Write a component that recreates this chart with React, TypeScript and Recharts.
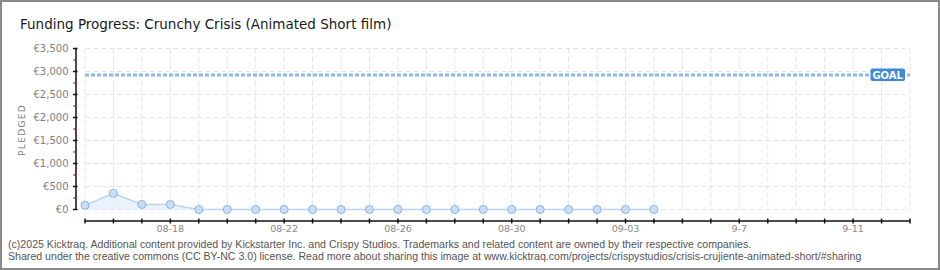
import React from 'react';
import { AreaChart, Area, XAxis, YAxis, CartesianGrid, ReferenceLine } from 'recharts';

const dates = [
  '08-15', '08-16', '08-17', '08-18', '08-19', '08-20', '08-21', '08-22', '08-23', '08-24',
  '08-25', '08-26', '08-27', '08-28', '08-29', '08-30', '08-31', '09-01', '09-02', '09-03',
  '09-04', '09-05', '09-06', '09-07', '09-08', '09-09', '09-10', '09-11', '09-12', '09-13',
];
const pledged = [90, 350, 110, 110, 0, 0, 0, 0, 0, 0, 0, 0, 0, 0, 0, 0, 0, 0, 0, 0, 0];
const yTicks = [0, 250, 500, 750, 1000, 1250, 1500, 1750, 2000, 2250, 2500, 2750, 3000, 3250, 3500];
const labelDates = ['08-18', '08-22', '08-26', '08-30', '09-03', '09-07', '09-11'];
const labelTexts = ['08-18', '08-22', '08-26', '08-30', '09-03', '9-7', '9-11'];
const goal = 2925;

const title = 'Funding Progress: Crunchy Crisis (Animated Short film)';
const footer1 =
  '(c)2025 Kicktraq. Additional content provided by Kickstarter Inc. and Crispy Studios. Trademarks and related content are owned by their respective companies.';
const footer2 =
  'Shared under the creative commons (CC BY-NC 3.0) license. Read more about sharing this image at www.kicktraq.com/projects/crispystudios/crisis-crujiente-animated-short/#sharing';

const data = dates.map((d, i) => ({ date: d, pledged: i < pledged.length ? pledged[i] : null }));

const fmtEuro = (v: number) => '€' + v.toLocaleString('en-US');

const YTick = (props: any) => {
  const { x, y, payload } = props;
  const v = payload.value as number;
  const major = v % 500 === 0;
  return (
    <g>
      {major ? (
        <line x1={x - 12} x2={x - 7.5} y1={y} y2={y} stroke="#111" strokeWidth={1.5} />
      ) : (
        <line x1={x - 11.7} x2={x - 9} y1={y} y2={y} stroke="#e00000" strokeWidth={1.2} />
      )}
      {major && (
        <text
          x={x - 16.5}
          y={y + 3.6}
          textAnchor="end"
          fontSize={10}
          fontFamily="DejaVu Sans"
          fill="#808080"
        >
          {fmtEuro(v)}
        </text>
      )}
    </g>
  );
};

const XTick = (props: any) => {
  const { x, y, payload } = props;
  const idx = labelDates.indexOf(payload.value);
  return (
    <g>
      <line x1={x} x2={x} y1={y + 9} y2={y + 14} stroke="#111" strokeWidth={1.5} />
      {idx >= 0 && (
        <text
          x={x}
          y={y + 22.3}
          textAnchor="middle"
          fontSize={9.5}
          fontFamily="DejaVu Sans"
          fill="#888"
        >
          {labelTexts[idx]}
        </text>
      )}
    </g>
  );
};

const HLine = (p: any) => {
  const { index, key, ...rest } = p;
  if (index !== undefined && index % 2 !== 0) return <g key={key} />;
  return <line key={key} {...rest} />;
};

const GoalLabel = (p: any) => {
  const vb = p.viewBox || {};
  const right = (vb.x || 0) + (vb.width || 0);
  const cy = vb.y || 0;
  return (
    <g>
      <rect x={right - 39.5} y={cy - 6.5} width={34.5} height={12.5} rx={2} fill="#3f88d9" />
      <text
        x={right - 22.3}
        y={cy + 3.7}
        textAnchor="middle"
        fontSize={10}
        fontWeight="bold"
        fontFamily="DejaVu Sans"
        fill="#fff"
      >
        GOAL
      </text>
    </g>
  );
};

const PledgedLabel = (p: any) => {
  const vb = p.viewBox || { x: 0, y: 0, width: 0, height: 0 };
  const cx = vb.x + 22;
  const cy = vb.y + vb.height / 2 + 1;
  return (
    <text
      x={cx}
      y={cy}
      transform={`rotate(-90, ${cx}, ${cy})`}
      textAnchor="middle"
      dominantBaseline="central"
      fontSize={9}
      letterSpacing={1.3}
      fontFamily="DejaVu Sans"
      fill="#7a7a7a"
    >
      PLEDGED
    </text>
  );
};

export default function App() {
  return (
    <div style={{ position: 'absolute', left: 0, top: 0, width: 940, height: 270, background: '#fff' }}>
      <div
        style={{
          position: 'absolute',
          left: 20,
          top: 16,
          fontFamily: '"DejaVu Sans", sans-serif',
          fontSize: 13.5,
          lineHeight: '16px',
          color: '#1a1a1a',
          whiteSpace: 'nowrap',
        }}
      >
        {title}
      </div>
      <div style={{ position: 'absolute', left: 0, top: 0 }}>
        <AreaChart width={940} height={270} data={data} margin={{ top: 48.5, right: 30, bottom: 0, left: 0 }}>
          <CartesianGrid
            stroke="#e3e3e3"
            strokeDasharray="5 3"
            horizontal={HLine}
            vertical={true}
          />
          <XAxis
            dataKey="date"
            interval={0}
            tick={<XTick />}
            tickLine={false}
            tickSize={0}
            tickMargin={0}
            height={60.5}
            axisLine={{ stroke: '#111', strokeWidth: 1.5, transform: 'translate(0, 11.5)' } as any}
          />
          <YAxis
            domain={[0, 3500]}
            ticks={yTicks}
            interval={0}
            tick={<YTick />}
            tickLine={false}
            tickSize={0}
            tickMargin={0}
            width={85}
            axisLine={{ stroke: '#111', strokeWidth: 1.5, transform: 'translate(-9, 0)' } as any}
            label={{ content: PledgedLabel } as any}
          />
          <ReferenceLine
            y={goal}
            stroke="#8bb9ec"
            strokeWidth={3}
            strokeDasharray="4 2"
            label={{ content: GoalLabel } as any}
          />
          <Area
            type="linear"
            dataKey="pledged"
            stroke="#b7d4f3"
            strokeWidth={1.5}
            fill="#e6f0fc"
            fillOpacity={0.85}
            dot={{ r: 4, fill: '#c4dcf8', stroke: '#8db0d8', strokeWidth: 1 }}
            activeDot={false}
            isAnimationActive={false}
          />
        </AreaChart>
      </div>
      <div
        style={{
          position: 'absolute',
          left: 8,
          top: 237.5,
          fontFamily: '"Liberation Sans", sans-serif',
          fontSize: 10.6,
          lineHeight: '12.5px',
          color: '#555',
          whiteSpace: 'nowrap',
        }}
      >
        <div>{footer1}</div>
        <div>{footer2}</div>
      </div>
      <div
        style={{
          position: 'absolute',
          left: 0,
          top: 0,
          width: 940,
          height: 270,
          boxSizing: 'border-box',
          border: '2px solid #8a8a8a',
          pointerEvents: 'none',
        }}
      />
    </div>
  );
}
